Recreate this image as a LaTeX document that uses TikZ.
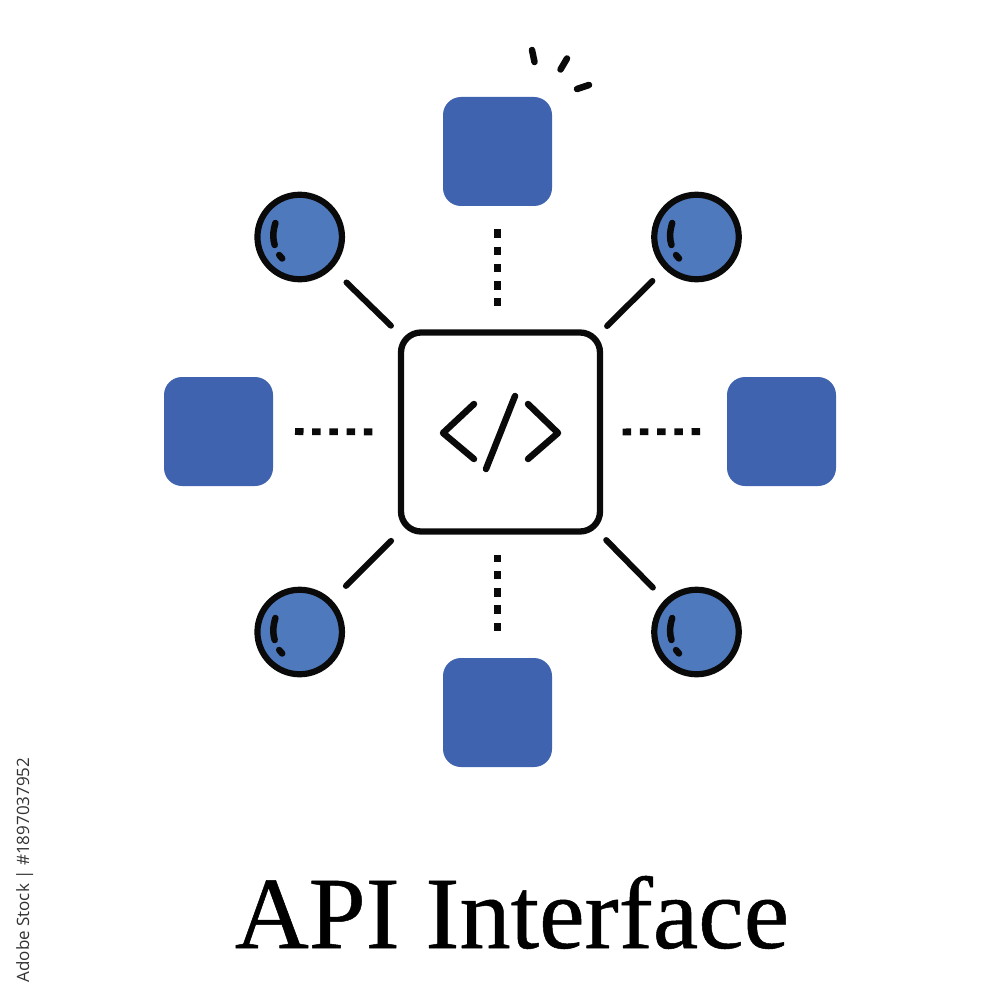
\documentclass[tikz,border=0pt]{standalone}
\usepackage{fontspec}
\setmainfont{Liberation Serif}
\newfontfamily\titlefont[FakeBold=0.5]{Liberation Serif}
\newfontfamily\wmfont{Open Sans}
\definecolor{sqblue}{HTML}{3F63AF}
\definecolor{ballblue}{HTML}{4F79BD}
\definecolor{ink}{HTML}{0A0A0A}
\begin{document}
\begin{tikzpicture}[x=1pt,y=-1pt,line cap=round,line join=round,
  bluesquare/.style={fill=sqblue,rounded corners=18pt,minimum size=109pt,inner sep=0pt,outer sep=0pt},
  ball/.style={circle,draw=ink,line width=6.2pt,fill=ballblue,minimum size=84.5pt,inner sep=0pt,outer sep=0pt},
  hubbox/.style={draw=ink,line width=6.3pt,rounded corners=20pt,minimum size=199pt,inner sep=0pt,outer sep=0pt},
  solidlink/.style={draw=ink,line width=6pt},
  dotlink/.style={draw=ink,line width=6.8pt,line cap=butt,dash pattern=on 8.5pt off 8.7pt},
  glyph/.style={draw=ink,line width=6.5pt},
  sparkline/.style={draw=ink,line width=6.5pt},
  shine/.style={draw=ink,line width=6.5pt}]
\useasboundingbox (0,0) rectangle (1000,1000);
\node[hubbox] (hub) at (500.5,432) {};
\node[bluesquare] (top) at (497.5,151.5) {};
\node[bluesquare] (left) at (218.5,431.5) {};
\node[bluesquare] (right) at (781.5,431.5) {};
\node[bluesquare] (bottom) at (497.5,712.5) {};
\node[ball] (tl) at (299.7,237) {};
\node[ball] (tr) at (696.5,237) {};
\node[ball] (bl) at (299.7,632) {};
\node[ball] (br) at (696.5,632) {};
% solid connectors
\draw[solidlink,shorten <=23pt,shorten >=14pt] (tl) -- (hub);
\draw[solidlink,shorten <=20pt,shorten >=10pt] (tr) -- (hub);
\draw[solidlink,shorten <=23pt,shorten >=14pt] (bl) -- (hub);
\draw[solidlink,shorten <=20pt,shorten >=12pt] (br) -- (hub);
% dotted connectors
\draw[dotlink,shorten <=23.5pt,shorten >=26.5pt] (top.south) -- (top.south |- hub.north);
\draw[dotlink,shorten <=27pt,shorten >=23pt] (bottom.north) -- (bottom.north |- hub.south);
\draw[dotlink,shorten <=22pt,shorten >=28.7pt] (left.east) -- (hub.west);
\draw[dotlink,shorten <=27pt,shorten >=22pt] (right.west) -- (hub.east);
% code glyph
\draw[glyph] (474,404) -- (443,433) -- (474,459);
\draw[glyph] (515,396) -- (486,469);
\draw[glyph] (528,404) -- (558,433) -- (528,459);
% highlights
\foreach \c in {tl,tr,bl,br}{
  \draw[shine] ([shift={(-24.3,-14)}]\c.center) .. controls ([shift={(-27,-5)}]\c.center) and ([shift={(-27,2)}]\c.center) .. ([shift={(-25,8)}]\c.center);
  \draw[shine] ([shift={(-20.5,18)}]\c.center) -- ([shift={(-17.5,21.5)}]\c.center);
}
% spark
\draw[sparkline] (532,50) -- (534.5,62);
\draw[sparkline] (567,58.5) -- (560.5,69.5);
\draw[sparkline] (589,85) -- (577,89);
% title
\node[inner sep=0pt,anchor=base] (title) at (512,948) {\titlefont\fontsize{102.4pt}{102.4pt}\selectfont API Interface};
\node[inner sep=0pt,anchor=base,rotate=90,text=black!80] (stock) at (29,870) {\wmfont\fontsize{17pt}{17pt}\selectfont Adobe Stock | \#1897037952};
\end{tikzpicture}
\end{document}
